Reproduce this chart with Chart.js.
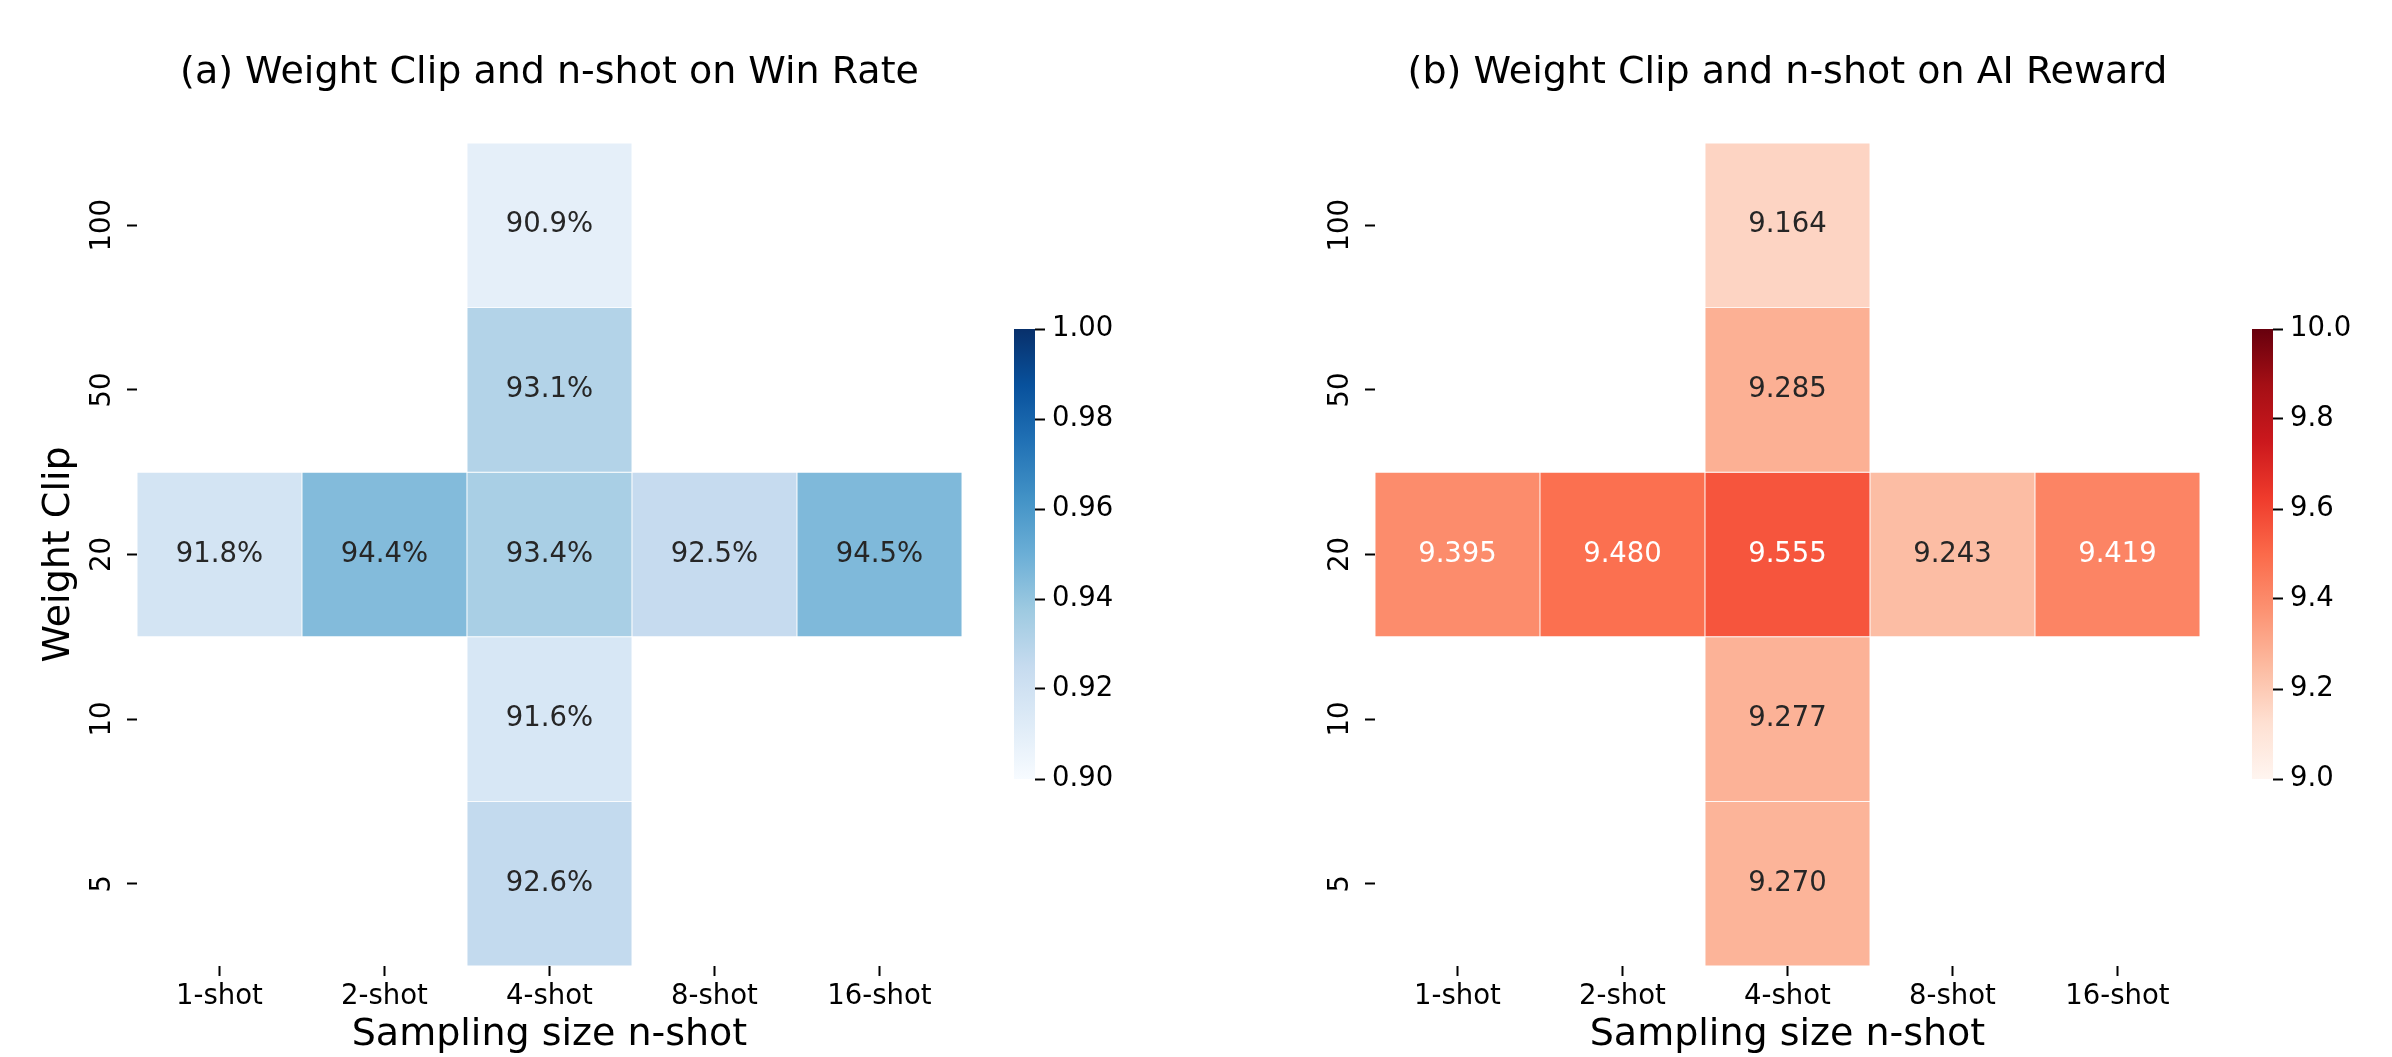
<!DOCTYPE html>
<html>
<head>
<meta charset="utf-8">
<title>Weight Clip and n-shot</title>
<script src="https://cdn.jsdelivr.net/npm/chart.js@4.4.1/dist/chart.umd.min.js"></script>
<style>
    html, body { margin: 0; padding: 0; background: #fff; width: 2392px; height: 1057px; overflow: hidden; }
    canvas { position: absolute; }
    #winRateChart { left: 0; top: 0; }
    #winRateBar { left: 1014px; top: 300px; }
    #rewardChart { left: 1238px; top: 0; }
    #rewardBar { left: 2252px; top: 300px; }
</style>
</head>
<body>
<canvas id="winRateChart" width="962" height="1080"></canvas>
<canvas id="winRateBar" width="160" height="520"></canvas>
<canvas id="rewardChart" width="962" height="1080"></canvas>
<canvas id="rewardBar" width="160" height="520"></canvas>

<script>
// Axis categories
const shots = ['1-shot', '2-shot', '4-shot', '8-shot', '16-shot'];
const clips = ['100', '50', '20', '10', '5'];

// Rows follow clips (top to bottom), columns follow shots
const winRate = [
    [null, null, 0.909, null, null],
    [null, null, 0.931, null, null],
    [0.918, 0.944, 0.934, 0.925, 0.945],
    [null, null, 0.916, null, null],
    [null, null, 0.926, null, null]
];
const aiReward = [
    [null, null, 9.164, null, null],
    [null, null, 9.285, null, null],
    [9.395, 9.480, 9.555, 9.243, 9.419],
    [null, null, 9.277, null, null],
    [null, null, 9.270, null, null]
];

// Colorbar ticks
const winRateTicks = [0.90, 0.92, 0.94, 0.96, 0.98, 1.00];
const rewardTicks = [9.0, 9.2, 9.4, 9.6, 9.8, 10.0];

// matplotlib Blues / Reds
const BLUES = ['#f7fbff', '#deebf7', '#c6dbef', '#9ecae1', '#6baed6', '#4292c6', '#2171b5', '#08519c', '#08306b'];
const REDS = ['#fff5f0', '#fee0d2', '#fcbba1', '#fc9272', '#fb6a4a', '#ef3b2c', '#cb181d', '#a50f15', '#67000d'];

const FONT = "'DejaVu Sans'";
const TICK_SIZE = 27.5;
const LABEL_SIZE = 38;
const CANVAS_H = 1080;
const PLOT = { left: 137, top: 143, bottom: 966 };

Chart.defaults.font.family = FONT;
Chart.defaults.color = '#000';

function hexToRgb(hex) {
    const n = parseInt(hex.slice(1), 16);
    return [(n >> 16) & 255, (n >> 8) & 255, n & 255];
}

function cmapColor(stops, t) {
    t = Math.min(1, Math.max(0, t));
    const pos = t * (stops.length - 1);
    const i = Math.min(stops.length - 2, Math.floor(pos));
    const f = pos - i;
    const a = hexToRgb(stops[i]);
    const b = hexToRgb(stops[i + 1]);
    return a.map((v, k) => Math.round(v + (b[k] - v) * f));
}

// same rule seaborn uses to pick annotation colour
function luminance(rgb) {
    const c = rgb.map(v => {
        v /= 255;
        return v <= 0.03928 ? v / 12.92 : Math.pow((v + 0.055) / 1.055, 2.4);
    });
    return 0.2126 * c[0] + 0.7152 * c[1] + 0.0722 * c[2];
}

const rgbStr = c => `rgb(${c[0]}, ${c[1]}, ${c[2]})`;

// Draw the value in the middle of each cell
const cellLabels = {
    id: 'cellLabels',
    afterDatasetsDraw(chart) {
        const ctx = chart.ctx;
        ctx.save();
        ctx.font = `${TICK_SIZE}px ${FONT}`;
        ctx.textAlign = 'center';
        ctx.textBaseline = 'middle';
        chart.data.datasets.forEach((ds, i) => {
            const meta = chart.getDatasetMeta(i);
            meta.data.forEach((bar, j) => {
                if (!ds.cellText[j]) return;
                ctx.fillStyle = ds.textColors[j];
                ctx.fillText(ds.cellText[j], bar.x, (bar.y + bar.base) / 2);
            });
        });
        ctx.restore();
    }
};

function buildHeatmap(canvasId, cfg) {
    const { values, cmap, vmin, vmax, format, title, yTitle } = cfg;
    const nRows = clips.length;

    const datasets = clips.map((clip, r) => {
        const row = values[r];
        const colors = row.map(v => v === null ? null : cmapColor(cmap, (v - vmin) / (vmax - vmin)));
        return {
            label: clip,
            data: row.map(v => v === null ? null : [nRows - 1 - r, nRows - r]),
            backgroundColor: colors.map(c => c ? rgbStr(c) : 'rgba(0,0,0,0)'),
            cellText: row.map(v => v === null ? '' : format(v)),
            textColors: colors.map(c => c && luminance(c) <= 0.408 ? '#ffffff' : '#262626'),
            borderColor: '#ffffff',
            borderWidth: 0.8,
            borderSkipped: false,
            grouped: false,
            barPercentage: 1,
            categoryPercentage: 1
        };
    });

    const lh = LABEL_SIZE * 1.2;

    return new Chart(document.getElementById(canvasId), {
        type: 'bar',
        data: { labels: shots, datasets: datasets },
        options: {
            responsive: false,
            animation: false,
            layout: { padding: 0 },
            plugins: {
                legend: { display: false },
                tooltip: { enabled: false },
                title: {
                    display: true,
                    text: title,
                    fullSize: false,
                    color: '#000',
                    font: { size: LABEL_SIZE, weight: 'normal' },
                    padding: { top: 73.5 - lh / 2, bottom: PLOT.top - 73.5 - lh / 2 }
                }
            },
            scales: {
                x: {
                    type: 'category',
                    offset: true,
                    border: { display: false },
                    grid: { offset: false, drawOnChartArea: false, tickLength: 10, tickWidth: 2, tickColor: '#000' },
                    ticks: { color: '#000', font: { size: TICK_SIZE }, padding: 4, maxRotation: 0, autoSkip: false },
                    title: {
                        display: true,
                        text: 'Sampling size n-shot',
                        color: '#000',
                        font: { size: LABEL_SIZE },
                        padding: { top: 0, bottom: CANVAS_H - 1035 - lh / 2 }
                    },
                    afterFit: s => { s.height = CANVAS_H - PLOT.bottom; }
                },
                y: {
                    type: 'linear',
                    min: 0,
                    max: nRows,
                    border: { display: false },
                    grid: { drawOnChartArea: false, tickLength: 10, tickWidth: 2, tickColor: '#000' },
                    ticks: {
                        color: '#000',
                        font: { size: TICK_SIZE },
                        minRotation: 90,
                        maxRotation: 90,
                        crossAlign: 'center',
                        padding: -2,
                        callback: v => clips[Math.round(nRows - 0.5 - v)]
                    },
                    afterBuildTicks: s => { s.ticks = clips.map((c, i) => ({ value: nRows - 0.5 - i })); },
                    title: {
                        display: !!yTitle,
                        text: yTitle || '',
                        color: '#000',
                        font: { size: LABEL_SIZE },
                        padding: { top: 59.5 - lh / 2, bottom: 0 }
                    },
                    afterFit: s => { s.width = PLOT.left; }
                }
            }
        },
        plugins: [cellLabels]
    });
}

function buildColorbar(canvasId, cfg) {
    const { cmap, vmin, vmax, ticks, decimals } = cfg;
    const canvas = document.getElementById(canvasId);
    const barWidth = 21;

    return new Chart(canvas, {
        type: 'bar',
        data: {
            labels: [''],
            datasets: [{
                data: [[vmin, vmax]],
                backgroundColor: (ctx) => {
                    const area = ctx.chart.chartArea;
                    if (!area) return cmap[0];
                    const g = ctx.chart.ctx.createLinearGradient(0, area.bottom, 0, area.top);
                    cmap.forEach((c, i) => g.addColorStop(i / (cmap.length - 1), c));
                    return g;
                },
                borderWidth: 0,
                barPercentage: 1,
                categoryPercentage: 1
            }]
        },
        options: {
            responsive: false,
            animation: false,
            layout: { padding: { top: 29, bottom: canvas.height - 29 - 450, left: 0, right: 0 } },
            plugins: { legend: { display: false }, tooltip: { enabled: false } },
            scales: {
                x: { display: false },
                y: {
                    position: 'right',
                    min: vmin,
                    max: vmax,
                    border: { display: false },
                    grid: { drawOnChartArea: false, tickLength: 10, tickWidth: 2, tickColor: '#000' },
                    ticks: { color: '#000', font: { size: TICK_SIZE }, padding: 7, callback: v => v.toFixed(decimals) },
                    afterBuildTicks: s => { s.ticks = ticks.map(v => ({ value: v })); },
                    afterFit: s => { s.width = canvas.width - barWidth; }
                }
            }
        }
    });
}

document.addEventListener('DOMContentLoaded', () => {
    // (a) win rate
    buildHeatmap('winRateChart', {
        values: winRate,
        cmap: BLUES,
        vmin: 0.9,
        vmax: 1.0,
        format: v => (v * 100).toFixed(1) + '%',
        title: '(a) Weight Clip and n-shot on Win Rate',
        yTitle: 'Weight Clip'
    });
    buildColorbar('winRateBar', { cmap: BLUES, vmin: 0.9, vmax: 1.0, ticks: winRateTicks, decimals: 2 });

    // (b) AI reward
    buildHeatmap('rewardChart', {
        values: aiReward,
        cmap: REDS,
        vmin: 9.0,
        vmax: 10.0,
        format: v => v.toFixed(3),
        title: '(b) Weight Clip and n-shot on AI Reward',
        yTitle: null
    });
    buildColorbar('rewardBar', { cmap: REDS, vmin: 9.0, vmax: 10.0, ticks: rewardTicks, decimals: 1 });
});
</script>
</body>
</html>
